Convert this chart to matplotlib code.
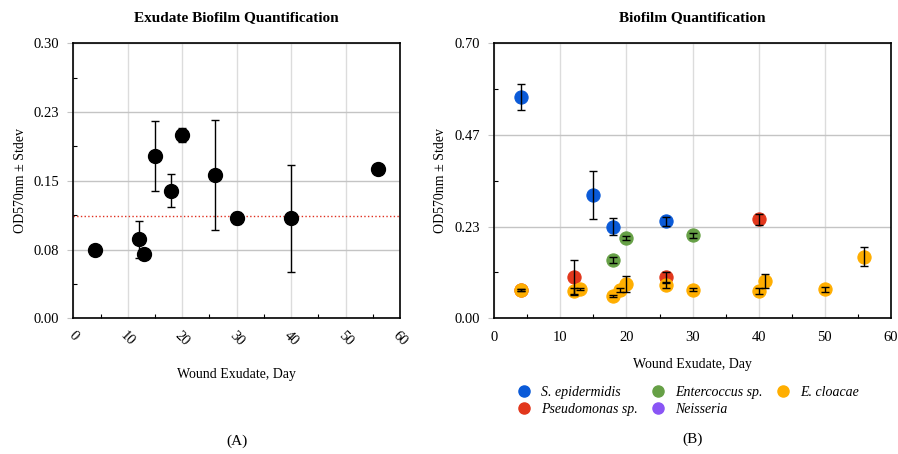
"""
Exudate biofilm quantification: pooled OD570 (A) and per-species OD570 (B).
"""

import matplotlib.pyplot as plt
import numpy as np
from matplotlib.lines import Line2D
from matplotlib.ticker import MultipleLocator

plt.rcParams["font.family"] = ["Liberation Serif", "DejaVu Serif"]

# ---------------------------------------------------------------------------
# Data
# ---------------------------------------------------------------------------
# Panel A: pooled exudate biofilm
days_a = [4, 12, 13, 15, 18, 20, 26, 30, 40, 56]
od_a = [0.075, 0.086, 0.070, 0.177, 0.139, 0.200, 0.156, 0.109, 0.109, 0.163]
err_a = [0.0, 0.020, 0.0, 0.038, 0.018, 0.008, 0.060, 0.0065, 0.058, 0.0]
threshold_a = 0.112

# Panel B: per species
epi_days = [4, 15, 18, 26]
epi_od = [0.563, 0.314, 0.233, 0.247]
epi_err = [0.033, 0.062, 0.022, 0.012]

pseudo_days = [4, 12, 26, 40]
pseudo_od = [0.072, 0.104, 0.104, 0.252]
pseudo_err = [0.002, 0.044, 0.014, 0.014]

entero_days = [18, 20, 30]
entero_od = [0.148, 0.205, 0.211]
entero_err = [0.007, 0.005, 0.007]

neis_days = []
neis_od = []
neis_err = []

clo_days = [4, 12, 13, 18, 19, 20, 26, 30, 40, 41, 50, 56]
clo_od = [0.072, 0.070, 0.074, 0.057, 0.072, 0.087, 0.084, 0.073, 0.070, 0.094, 0.074, 0.157]
clo_err = [0.002, 0.008, 0.002, 0.002, 0.004, 0.020, 0.008, 0.004, 0.007, 0.018, 0.006, 0.024]

species = [
    ("S. epidermidis", epi_days, epi_od, epi_err, "#0a5ad8"),
    ("Pseudomonas sp.", pseudo_days, pseudo_od, pseudo_err, "#e2371c"),
    ("Entercoccus sp.", entero_days, entero_od, entero_err, "#66a046"),
    ("Neisseria", neis_days, neis_od, neis_err, "#8a55f5"),
    ("E. cloacae", clo_days, clo_od, clo_err, "#ffae00"),
]

# ---------------------------------------------------------------------------
# Figure
# ---------------------------------------------------------------------------
fig = plt.figure(figsize=(8.98, 4.54), dpi=100)
ax_a = fig.add_axes([0.0816, 0.2989, 0.3638, 0.6057])
ax_b = fig.add_axes([0.5505, 0.2989, 0.4414, 0.6057])


def style_axes(ax, ymax, yticklabels):
    ax.set_xlim(0, 60)
    ax.set_ylim(0, ymax)
    ax.set_xticks(np.arange(0, 61, 10))
    ax.xaxis.set_minor_locator(MultipleLocator(5))
    yt = np.linspace(0, ymax, 4 if ymax > 0.5 else 5)
    ax.set_yticks(yt)
    ax.set_yticklabels(yticklabels)
    ax.yaxis.set_minor_locator(MultipleLocator((yt[1] - yt[0]) / 2))
    ax.grid(axis="x", which="major", color="#dcdcdc", lw=1)
    ax.grid(axis="y", which="major", color="#c4c4c4", lw=1)
    ax.set_axisbelow(True)
    ax.tick_params(which="major", length=0, pad=12, labelsize=10.5)
    ax.tick_params(which="minor", direction="in", length=3, width=0.8)
    ax.tick_params(axis="y", which="major", length=4, direction="out",
                   color="#c4c4c4", pad=6)
    ax.tick_params(right=False, top=False, which="both")
    for s in ax.spines.values():
        s.set_linewidth(1.2)
        s.set_color("black")


# ---------------------------- Panel A -------------------------------------
style_axes(ax_a, 0.30, ["0.00", "0.08", "0.15", "0.23", "0.30"])
ax_a.set_ylabel("OD570nm ± Stdev", fontsize=10, labelpad=5)
ax_a.axhline(threshold_a, color="#e03020", ls=":", lw=1, zorder=2)
ax_a.errorbar(days_a, od_a, yerr=err_a, fmt="none", ecolor="black",
              elinewidth=1, capsize=3, capthick=1, zorder=3)
ax_a.plot(days_a, od_a, "o", color="black", ms=10, zorder=4, ls="none")
ax_a.set_title("Exudate Biofilm Quantification", fontsize=11, fontweight="bold", pad=16)
for lab in ax_a.get_xticklabels():
    lab.set_rotation(-45)
    lab.set_ha("center")
    lab.set_va("top")
ax_a.tick_params(axis="x", pad=8)
ax_a.set_xlabel("Wound Exudate, Day", fontsize=10, labelpad=14)
ax_a.text(0.5, -0.447, "(A)", transform=ax_a.transAxes, ha="center", va="center", fontsize=11)

# ---------------------------- Panel B -------------------------------------
style_axes(ax_b, 0.70, ["0.00", "0.23", "0.47", "0.70"])
ax_b.set_ylabel("OD570nm ± Stdev", fontsize=10, labelpad=6)
handles = []
for name, d, od, err, col in species:
    ax_b.plot(d, od, "o", color=col, ms=9.5, mec=col, mew=0.8, alpha=1,
              zorder=3, ls="none")
    handles.append(Line2D([], [], marker="o", ls="none", color=col, ms=8, label=name))
for name, d, od, err, col in species:
    if d:
        ax_b.errorbar(d, od, yerr=err, fmt="none", ecolor="black",
                      elinewidth=1, capsize=3, capthick=1, zorder=4)
ax_b.set_title("Biofilm Quantification", fontsize=11, fontweight="bold", pad=16)
ax_b.tick_params(axis="x", pad=9)
ax_b.set_xlabel("Wound Exudate, Day", fontsize=10, labelpad=10)
ax_b.legend(handles=handles, ncol=3, loc="upper center", bbox_to_anchor=(0.487, -0.2),
            frameon=False, prop={"style": "italic", "size": 10},
            handletextpad=0.6, columnspacing=0.9, labelspacing=0.3, handlelength=1.2)
ax_b.text(0.5, -0.44, "(B)", transform=ax_b.transAxes, ha="center", va="center", fontsize=11)

plt.savefig("out.png", dpi=100)
plt.close()
